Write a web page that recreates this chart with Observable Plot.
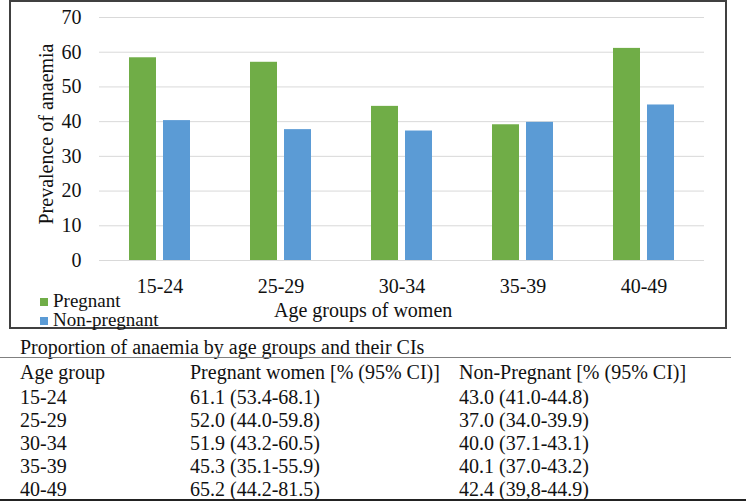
<!DOCTYPE html>
<html>
<head>
<meta charset="utf-8">
<script src="https://cdn.jsdelivr.net/npm/d3@7"></script>
<script src="https://cdn.jsdelivr.net/npm/@observablehq/plot@0.6"></script>
<style>
  html, body { margin: 0; padding: 0; background: #fff; }
  body { width: 746px; height: 503px; position: relative; overflow: hidden;
         font-family: "Liberation Serif", "Times New Roman", serif; color: #111; }
  body *, #box svg, #box svg text { font-family: "Liberation Serif", "Times New Roman", serif !important; }
  #box { position: absolute; left: 9px; top: 0px; width: 714px; height: 325px;
         border: 2px solid #404040; }
  #box svg { display: block; }
  #box svg text { font-size: 20px; fill: #111; }
  .abs { position: absolute; white-space: nowrap; }
  .leg { font-size: 19px; line-height: 19px; }
  .sw { position: absolute; width: 8px; height: 8px; }
  #ytitle { font-size: 20px; line-height: 20px; left: 46px; top: 133.5px;
            transform: translate(-50%, -50%) rotate(-90deg); }
  #xtitle { font-size: 20px; line-height: 20px; left: 274px; top: 300px; }
  #ttitle { font-size: 20px; line-height: 20px; left: 20px; top: 336.5px; }
  #rule1 { position: absolute; left: 0; top: 357px; width: 731px; border-top: 1.5px solid #808080; }
  #rule2 { position: absolute; left: 0; top: 499px; width: 746px; border-top: 2.5px solid #222; }
  #tbl { position: absolute; left: 20px; top: 360.7px; border-collapse: collapse; font-size: 20px; }
  #tbl td { padding: 0; line-height: 23.1px; height: 23.1px; vertical-align: top; white-space: nowrap; }
  #tbl tr.hd td { line-height: 23.1px; height: 25.2px; }
</style>
</head>
<body>
<div id="box"></div>
<div id="legend"></div>
<div id="ytitle" class="abs"></div>
<div id="xtitle" class="abs"></div>
<div id="ttitle" class="abs"></div>
<div id="rule1"></div>
<table id="tbl"></table>
<div id="rule2"></div>
<script>
// ---- Chart data ----
const groups = ["15-24", "25-29", "30-34", "35-39", "40-49"];
const seriesNames = ["Pregnant", "Non-pregnant"];
const pregnant = [58.4, 57.1, 44.4, 39.1, 61.1];
const nonPregnant = [40.3, 37.7, 37.3, 39.8, 44.8];
const yTicks = [0, 10, 20, 30, 40, 50, 60, 70];
const seriesColors = ["#70AD47", "#5B9BD5"];
const yTitle = "Prevalence of anaemia";
const xTitle = "Age groups of women";

// ---- Table data ----
const tableTitle = "Proportion of anaemia by age groups and their CIs";
const tableHeader = ["Age group", "Pregnant women [% (95% CI)]", "Non-Pregnant [% (95% CI)]"];
const tablePregnant = ["61.1 (53.4-68.1)", "52.0 (44.0-59.8)", "51.9 (43.2-60.5)", "45.3 (35.1-55.9)", "65.2 (44.2-81.5)"];
const tableNonPregnant = ["43.0 (41.0-44.8)", "37.0 (34.0-39.9)", "40.0 (37.1-43.1)", "40.1 (37.0-43.2)", "42.4 (39,8-44.9)"];

const data = [];
groups.forEach((g, i) => {
  data.push({group: g, series: seriesNames[0], value: pregnant[i]});
  data.push({group: g, series: seriesNames[1], value: nonPregnant[i]});
});

const chart = Plot.plot({
  width: 714,
  height: 325,
  marginLeft: 86,
  marginRight: 19,
  marginTop: 15,
  marginBottom: 67,
  style: {fontFamily: "'Liberation Serif', 'Times New Roman', serif", fontSize: "20px", color: "#111", background: "transparent", overflow: "visible"},
  fx: {domain: groups, padding: 0, label: null, axis: "bottom", tickSize: 0, tickPadding: 18},
  x: {domain: seriesNames, paddingInner: 0.22, paddingOuter: 0.86, axis: null},
  y: {domain: [0, 70], ticks: yTicks, tickSize: 0, tickPadding: 18, label: null},
  color: {domain: seriesNames, range: seriesColors},
  marks: [
    Plot.gridY(yTicks, {stroke: "#d9d9d9", strokeOpacity: 1, strokeWidth: 1}),
    Plot.barY(data, {fx: "group", x: "series", y: "value", fill: "series"})
  ]
});
document.getElementById("box").appendChild(chart);

// Legend
const legend = document.getElementById("legend");
const legTops = [290.6, 310.1];
seriesNames.forEach((s, i) => {
  const sw = document.createElement("div");
  sw.className = "sw";
  sw.style.left = "40px";
  sw.style.top = (legTops[i] + 7) + "px";
  sw.style.background = seriesColors[i];
  legend.appendChild(sw);
  const t = document.createElement("div");
  t.className = "abs leg";
  t.style.left = "53px";
  t.style.top = legTops[i] + "px";
  t.textContent = s;
  legend.appendChild(t);
});

document.getElementById("ytitle").textContent = yTitle;
document.getElementById("xtitle").textContent = xTitle;
document.getElementById("ttitle").textContent = tableTitle;

// Table
const tbl = document.getElementById("tbl");
const colW = [170, 269, 280];
const hr = document.createElement("tr");
hr.className = "hd";
tableHeader.forEach((h, j) => {
  const td = document.createElement("td");
  td.style.width = colW[j] + "px";
  td.textContent = h;
  hr.appendChild(td);
});
tbl.appendChild(hr);
groups.forEach((g, i) => {
  const tr = document.createElement("tr");
  [g, tablePregnant[i], tableNonPregnant[i]].forEach((v, j) => {
    const td = document.createElement("td");
    td.style.width = colW[j] + "px";
    td.textContent = v;
    tr.appendChild(td);
  });
  tbl.appendChild(tr);
});
</script>
</body>
</html>
